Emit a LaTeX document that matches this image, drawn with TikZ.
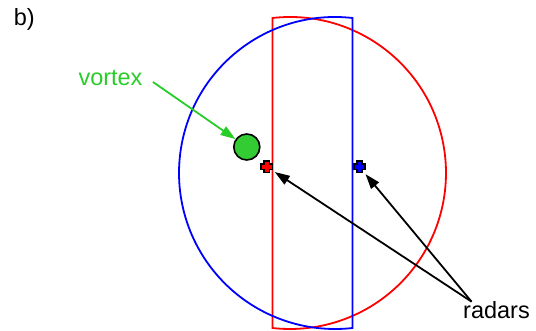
\documentclass[tikz,border=0pt]{standalone}
\usepackage{fontspec}
\setmainfont{Liberation Sans}
\usetikzlibrary{arrows.meta}
\definecolor{vgreen}{RGB}{40,205,40}
\definecolor{vfill}{RGB}{51,204,51}
\tikzset{
  lbl/.style={font=\fontsize{23.5}{26}\selectfont, inner sep=0pt, anchor=base},
  beam/.style={line width=1.8pt},
  radarpt/.style={circle, minimum size=19pt, inner sep=0pt},
  ptr/.style={line width=1.8pt, -{Triangle[length=15pt,width=10pt]}},
  radarmark/.pic={
    \draw[black, line width=1.6pt, fill=#1]
      (-2.6,5.6) -- (2.6,5.6) -- (2.6,2.6) -- (5.6,2.6) -- (5.6,-2.6) -- (2.6,-2.6)
      -- (2.6,-5.6) -- (-2.6,-5.6) -- (-2.6,-2.6) -- (-5.6,-2.6) -- (-5.6,2.6) -- (-2.6,2.6) -- cycle;
  }
}
\begin{document}
\begin{tikzpicture}[x=1pt,y=1pt]
\useasboundingbox (0,0) rectangle (536,330);
% sectors
\draw[beam, red] (290,157) ++(96.44:156) arc[start angle=96.44, end angle=-96.44, radius=156] -- cycle;
\draw[beam, blue] (335,157) ++(83.56:156) arc[start angle=83.56, end angle=276.44, radius=156] -- cycle;
% vortex
\node[circle, draw=black, line width=1.6pt, fill=vfill, minimum size=26pt, inner sep=0pt] (vortex) at (246.8,183) {};
% radars
\node[radarpt] (rr) at (266.7,163.3) {};
\node[radarpt] (br) at (359.3,163.3) {};
\path (rr) pic{radarmark=red};
\path (br) pic{radarmark=blue};
% labels
\node[lbl, anchor=base west] (b) at (13.7,304) {b)};
\node[lbl, text=vgreen] (vt) at (110.5,244) {vortex};
\node[lbl] (rt) at (496.5,12) {radars};
\coordinate (vs) at (153,248);
\coordinate (rs) at (471.6,28.3);
% arrows
\draw[ptr, vgreen] (vs) -- (vortex);
\draw[ptr, black] (rs) -- (rr);
\draw[ptr, black] (rs) -- (br);
\end{tikzpicture}
\end{document}
